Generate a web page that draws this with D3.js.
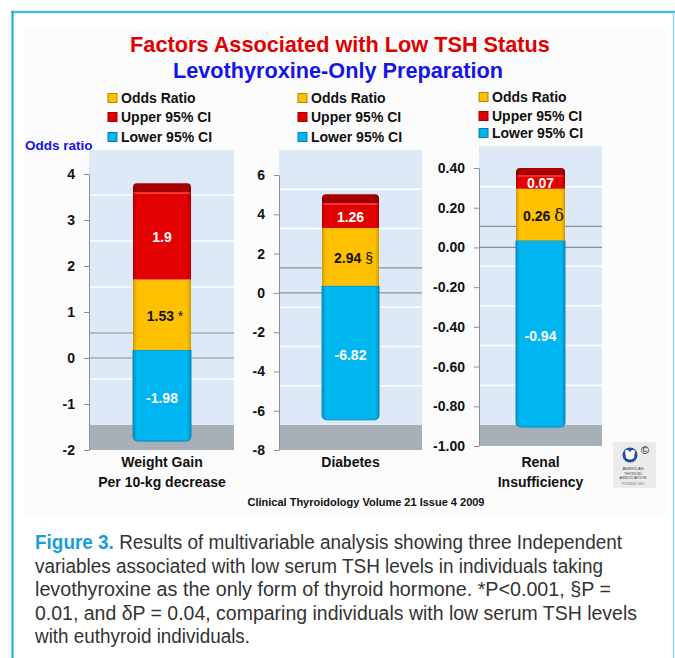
<!DOCTYPE html>
<html>
<head>
<meta charset="utf-8">
<script src="https://cdn.jsdelivr.net/npm/d3@7"></script>
<style>
  body { margin: 0; background: #fff; }
  text { font-family: Arial, "Liberation Sans", sans-serif; }
</style>
</head>
<body>
<svg id="chart"></svg>
<script>
// chart values
const categories = [["Weight Gain", "Per 10-kg decrease"], ["Diabetes"], ["Renal", "Insufficiency"]];
const lowerCI = [-1.98, -6.82, -0.94];
const oddsRatio = [1.53, 2.94, 0.26];
const upperCI = [1.9, 1.26, 0.07];
const markers = ["*", "§", "δ"];
const yDomains = [[-2, 4], [-8, 6], [-1, 0.4]];
const yTicks = [[-2, -1, 0, 1, 2, 3, 4], [-8, -6, -4, -2, 0, 2, 4, 6], [-1, -0.8, -0.6, -0.4, -0.2, 0, 0.2, 0.4]];
const tickDecimals = [0, 0, 2];
const legendLabels = ["Odds Ratio", "Upper 95% CI", "Lower 95% CI"];
const titleLines = ["Factors Associated with Low TSH Status", "Levothyroxine-Only Preparation"];
const sourceText = "Clinical Thyroidology Volume 21 Issue 4 2009";
const captionLead = "Figure 3.";
const captionLines = [
    "Results of multivariable analysis showing three Independent",
    "variables associated with low serum TSH levels in individuals taking",
    "levothyroxine as the only form of thyroid hormone. *P<0.001, §P =",
    "0.01, and δP = 0.04, comparing individuals with low serum TSH levels",
    "with euthyroid individuals."
];

const width = 675, height = 658;
const colors = { odds: '#ffc000', upper: '#e30000', lower: '#00b6f0', cap: '#a50000' };

const svg = d3.select('#chart')
    .attr('width', width)
    .attr('height', height);

// frame
svg.append('rect').attr('x', 24).attr('y', 29).attr('width', 643).attr('height', 487).attr('fill', '#fcfcfc');
svg.append('line').attr('x1', 11).attr('x2', 675).attr('y1', 12).attr('y2', 12)
    .attr('stroke', '#4cb8e2').attr('stroke-width', 2.5);
svg.append('line').attr('x1', 12.5).attr('x2', 12.5).attr('y1', 11).attr('y2', height)
    .attr('stroke', '#1aa5dc').attr('stroke-width', 2);
svg.append('line').attr('x1', 673.5).attr('x2', 673.5).attr('y1', 12).attr('y2', height)
    .attr('stroke', '#8fd3ef').attr('stroke-width', 1.5);

// titles
svg.append('text').text(titleLines[0])
    .attr('x', 340).attr('y', 52).attr('text-anchor', 'middle')
    .attr('font-size', 21.7).attr('font-weight', 'bold').attr('fill', '#e00000');
svg.append('text').text(titleLines[1])
    .attr('x', 338).attr('y', 78).attr('text-anchor', 'middle')
    .attr('font-size', 21.7).attr('font-weight', 'bold').attr('fill', '#1414e6');

svg.append('text').text('Odds ratio')
    .attr('x', 25).attr('y', 150)
    .attr('font-size', 13.5).attr('font-weight', 'bold').attr('fill', '#1414e6');

// gradients for a bit of 3D look
const defs = svg.append('defs');
function barGradient(id, base) {
    const dark = d3.color(base).darker(0.6);
    const g = defs.append('linearGradient').attr('id', id).attr('x1', 0).attr('x2', 1).attr('y1', 0).attr('y2', 0);
    g.append('stop').attr('offset', '0%').attr('stop-color', dark);
    g.append('stop').attr('offset', '7%').attr('stop-color', base);
    g.append('stop').attr('offset', '93%').attr('stop-color', base);
    g.append('stop').attr('offset', '100%').attr('stop-color', dark);
}
barGradient('gOdds', colors.odds);
barGradient('gUpper', colors.upper);
barGradient('gLower', colors.lower);
barGradient('gCap', colors.cap);

const panels = [
    { left: 89, right: 234, top: 150, range: [450, 174], back: 25, barX: 133, barW: 58, depth: 8, cap: 9, legX: 108, legY: [98, 117, 137] },
    { left: 279, right: 422, top: 150, range: [450, 175], back: 25, barX: 322, barW: 57, depth: 7, cap: 9, legX: 298, legY: [98, 117, 137] },
    { left: 479, right: 602, top: 146, range: [446, 168], back: 21, barX: 516, barW: 49, depth: 7, cap: 7, legX: 479, legY: [97, 116, 133] }
];

// rect path with optional rounded top / bottom corners
function segPath(x, y0, w, y1, rTop, rBot) {
    const p = d3.path();
    p.moveTo(x + rTop, y0);
    p.lineTo(x + w - rTop, y0);
    p.quadraticCurveTo(x + w, y0, x + w, y0 + rTop);
    p.lineTo(x + w, y1 - rBot);
    p.quadraticCurveTo(x + w, y1, x + w - rBot, y1);
    p.lineTo(x + rBot, y1);
    p.quadraticCurveTo(x, y1, x, y1 - rBot);
    p.lineTo(x, y0 + rTop);
    p.quadraticCurveTo(x, y0, x + rTop, y0);
    p.closePath();
    return p.toString();
}

panels.forEach((pn, i) => {
    const y = d3.scaleLinear().domain(yDomains[i]).range(pn.range);
    const g = svg.append('g');
    const yMin = y(yDomains[i][0]);

    // legend
    const legendItems = [
        { label: legendLabels[0], fill: colors.odds },
        { label: legendLabels[1], fill: colors.upper },
        { label: legendLabels[2], fill: colors.lower }
    ];
    legendItems.forEach((it, k) => {
        g.append('rect').attr('x', pn.legX).attr('y', pn.legY[k] - 4.5).attr('width', 9).attr('height', 9)
            .attr('fill', it.fill).attr('stroke', d3.color(it.fill).darker(1)).attr('stroke-width', 1);
        g.append('text').text(it.label)
            .attr('x', pn.legX + 13).attr('y', pn.legY[k] + 5)
            .attr('font-size', 14).attr('font-weight', 'bold').attr('fill', '#111');
    });

    // plot wall + floor
    g.append('rect').attr('x', pn.left).attr('y', pn.top).attr('width', pn.right - pn.left).attr('height', yMin - pn.top)
        .attr('fill', '#dde9f6');
    g.append('rect').attr('x', pn.left).attr('y', yMin - pn.back).attr('width', pn.right - pn.left).attr('height', pn.back)
        .attr('fill', '#a7afb7');

    // back wall gridlines
    yTicks[i].forEach(t => {
        const yy = y(t) - pn.back;
        if (yy <= pn.top + 1 || t === yDomains[i][0]) return;
        g.append('line').attr('x1', pn.left).attr('x2', pn.right).attr('y1', yy).attr('y2', yy)
            .attr('stroke', t === 0 ? '#8c9096' : '#ffffff').attr('stroke-width', t === 0 ? 1.2 : 1.5);
    });
    // front zero line
    g.append('line').attr('x1', pn.left).attr('x2', pn.right).attr('y1', y(0)).attr('y2', y(0))
        .attr('stroke', '#8c9096').attr('stroke-width', 1.2);

    // axis
    const axis = d3.axisLeft(y)
        .tickValues(yTicks[i])
        .tickSize(5)
        .tickSizeOuter(0)
        .tickPadding(9)
        .tickFormat(d => d.toFixed(tickDecimals[i]));
    const ag = g.append('g').attr('transform', 'translate(' + pn.left + ',0)').call(axis);
    ag.select('.domain').attr('stroke', '#8c9096');
    ag.selectAll('.tick line').attr('stroke', '#8c9096');
    ag.selectAll('.tick text')
        .attr('font-size', 14).attr('font-weight', 'bold').attr('fill', '#111')
        .attr('font-family', 'Arial, "Liberation Sans", sans-serif');

    // stacked bar: lower below zero, odds from zero up, upper on top of odds
    const d = pn.depth;
    const yLowTop = y(0) - d, yLowBot = y(lowerCI[i]) - d;
    const yOddTop = y(oddsRatio[i]) - d;
    const yUpTop = y(oddsRatio[i] + upperCI[i]) - d;
    const bx = pn.barX, bw = pn.barW;

    g.append('path').attr('d', segPath(bx, yLowTop, bw, yLowBot, 0, 5))
        .attr('fill', 'url(#gLower)').attr('stroke', '#1285bb').attr('stroke-width', 1);
    g.append('path').attr('d', segPath(bx, yOddTop, bw, yLowTop, 0, 0))
        .attr('fill', 'url(#gOdds)');
    g.append('path').attr('d', segPath(bx, yUpTop, bw, yOddTop, 0, 0))
        .attr('fill', 'url(#gUpper)');
    g.append('path').attr('d', segPath(bx, yUpTop - pn.cap, bw, yUpTop, 4, 0))
        .attr('fill', 'url(#gCap)');
    g.append('line').attr('x1', bx + 2).attr('x2', bx + bw - 2).attr('y1', yUpTop + 1).attr('y2', yUpTop + 1)
        .attr('stroke', '#ff3a3a').attr('stroke-width', 1.5);

    const cx = bx + bw / 2;
    // value labels
    g.append('text').text(upperCI[i])
        .attr('x', cx).attr('y', (yUpTop + yOddTop) / 2 + 6).attr('text-anchor', 'middle')
        .attr('font-size', 14).attr('font-weight', 'bold').attr('fill', '#fff');
    const ot = g.append('text')
        .attr('x', cx + 3).attr('y', (yOddTop + yLowTop) / 2 + 6).attr('text-anchor', 'middle')
        .attr('font-size', 14).attr('font-weight', 'bold').attr('fill', '#111');
    ot.append('tspan').text(oddsRatio[i].toFixed(2) + ' ');
    ot.append('tspan').text(markers[i])
        .attr('font-weight', 'normal')
        .attr('font-family', i === 2 ? '"DejaVu Serif", "Liberation Serif", serif' : null)
        .attr('font-size', i === 2 ? 16 : 14);
    g.append('text').text(lowerCI[i])
        .attr('x', cx).attr('y', (yLowTop + yLowBot) / 2 + 7).attr('text-anchor', 'middle')
        .attr('font-size', 14).attr('font-weight', 'bold').attr('fill', '#fff');

    // category label
    categories[i].forEach((line, k) => {
        g.append('text').text(line)
            .attr('x', cx).attr('y', 467 + k * 20).attr('text-anchor', 'middle')
            .attr('font-size', 14).attr('font-weight', 'bold').attr('fill', '#111');
    });
});

// ATA logo
const logo = svg.append('g');
logo.append('rect').attr('x', 613).attr('y', 442).attr('width', 43).attr('height', 46).attr('fill', '#ebebeb');
logo.append('circle').attr('cx', 630).attr('cy', 455).attr('r', 7.5).attr('fill', '#1b4f9c');
logo.append('path').attr('d', 'M625,451 Q627,448 630,452 Q633,448 635,451 L634,458 Q630,461 626,458 Z').attr('fill', '#fff');
logo.append('text').text('©').attr('x', 645).attr('y', 454).attr('text-anchor', 'middle')
    .attr('font-size', 11).attr('fill', '#111');
['AMERICAN', 'THYROID', 'ASSOCIATION'].forEach((t, k) => {
    logo.append('text').text(t).attr('x', 633).attr('y', 470 + k * 4.5).attr('text-anchor', 'middle')
        .attr('font-size', 4).attr('font-family', '"DejaVu Serif", serif').attr('fill', '#444');
});
logo.append('text').text('FOUNDED 1923').attr('x', 633).attr('y', 485).attr('text-anchor', 'middle')
    .attr('font-size', 3).attr('font-family', '"DejaVu Serif", serif').attr('fill', '#777');

// source line
svg.append('text').text(sourceText)
    .attr('x', 366).attr('y', 506).attr('text-anchor', 'middle')
    .attr('font-size', 11).attr('font-weight', 'bold').attr('fill', '#111');

// caption
const capEnds = [622, 603, 611, 637, 250];
captionLines.forEach((line, k) => {
    const t = svg.append('text')
        .attr('x', 35).attr('y', 549 + k * 23.5)
        .attr('font-size', 19.5)
        .attr('font-family', '"Liberation Sans Narrow", "Roboto", Arial, sans-serif')
        .attr('fill', '#333')
        .attr('textLength', capEnds[k] - 35)
        .attr('lengthAdjust', 'spacingAndGlyphs');
    if (k === 0) {
        t.append('tspan').text(captionLead + ' ').attr('fill', '#1a9ed9').attr('font-weight', 'bold');
    }
    t.append('tspan').text(line);
});
</script>
</body>
</html>
